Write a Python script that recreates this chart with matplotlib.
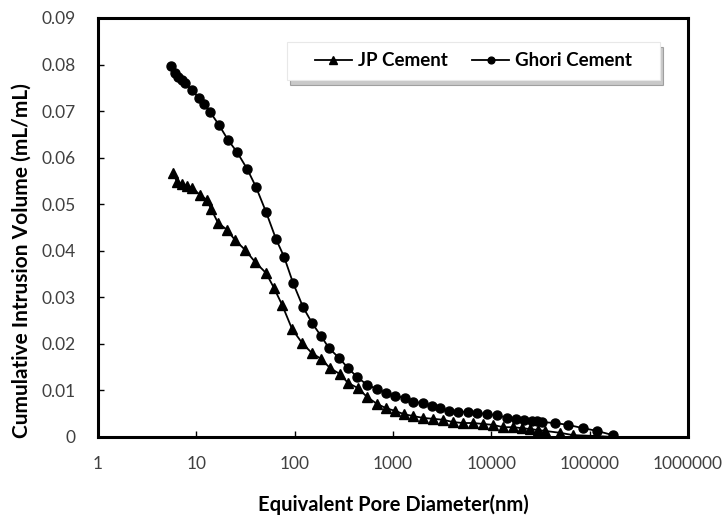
import numpy as np
import matplotlib.pyplot as plt
from matplotlib.patches import Rectangle, Shadow

plt.rcParams['font.family'] = ['Lato', 'DejaVu Sans']

# pore diameter (nm) / cumulative intrusion (mL/mL)
jp_d = [5.79, 6.36, 7.15, 8.04, 9.03, 10.9, 12.8, 14.1, 16.6, 20.5, 24.7, 31.3, 39.5,
        51.2, 61.6, 74.4, 94.0, 118.8, 150, 185, 229, 289, 349, 441, 544, 688, 849,
        1048, 1294, 1597, 2020, 2553, 3228, 4077, 5152, 6516, 8226, 10400, 13150,
        16600, 20500, 24700, 29850, 35200, 49900, 67700, 119000, 172000]
jp_v = [0.0567, 0.0548, 0.0543, 0.0539, 0.0535, 0.0520, 0.0509, 0.0490, 0.0460, 0.0445,
        0.0423, 0.0402, 0.0376, 0.0352, 0.0320, 0.0284, 0.0232, 0.0202, 0.0180, 0.0168,
        0.0148, 0.0135, 0.0116, 0.0105, 0.0086, 0.0071, 0.0062, 0.0056, 0.0049, 0.0045,
        0.0041, 0.0039, 0.0037, 0.0032, 0.0030, 0.0030, 0.0028, 0.0026, 0.0021, 0.0021,
        0.0019, 0.0017, 0.0015, 0.0013, 0.0009, 0.0004, 0.0002, 0.0000]

ghori_d = [5.53, 6.07, 6.51, 7.15, 7.67, 9.03, 10.6, 12.0, 13.8, 17.0, 21.0, 25.9, 32.8,
           40.4, 51.2, 64.6, 78.0, 96.2, 121.6, 150, 185, 223, 282, 349, 430, 544, 688,
           849, 1048, 1325, 1599, 2020, 2494, 3008, 3714, 4584, 5794, 7150, 9040, 11420,
           14430, 17820, 21500, 25900, 29100, 32800, 44400, 60200, 85500, 119000, 172000]
ghori_v = [0.0797, 0.0782, 0.0773, 0.0767, 0.0760, 0.0745, 0.0728, 0.0715, 0.0698, 0.0670,
           0.0638, 0.0612, 0.0576, 0.0537, 0.0483, 0.0425, 0.0387, 0.0331, 0.0279, 0.0245,
           0.0217, 0.0191, 0.0170, 0.0148, 0.0129, 0.0112, 0.0103, 0.0095, 0.0088, 0.0084,
           0.0075, 0.0073, 0.0067, 0.0062, 0.0056, 0.0054, 0.0054, 0.0052, 0.0049, 0.0047,
           0.0041, 0.0039, 0.0037, 0.0034, 0.0034, 0.0032, 0.0030, 0.0026, 0.0019, 0.0013,
           0.0004]

xticks = [1, 10, 100, 1000, 10000, 100000, 1000000]
yticks = [0, 0.01, 0.02, 0.03, 0.04, 0.05, 0.06, 0.07, 0.08, 0.09]

fig = plt.figure(figsize=(7.24, 5.18), dpi=100)
ax = fig.add_axes([0.1354, 0.1564, 0.8149, 0.8089])

ax.plot(jp_d, jp_v, color='black', lw=1.3, marker='^', markersize=7.5, label='JP Cement')
ax.plot(ghori_d, ghori_v, color='black', lw=1.3, marker='o', markersize=6.5, label='Ghori Cement')

ax.set_xscale('log')
ax.set_xlim(1, 1000000)
ax.set_ylim(0, 0.09)
ax.set_xticks(xticks)
ax.set_xticklabels([str(t) for t in xticks])
ax.minorticks_off()
ax.set_yticks(yticks)
ax.set_yticklabels(['0'] + ['%.2f' % t for t in yticks[1:]])
ax.tick_params(direction='in', length=4, width=1, labelsize=12.5, color='black',
               labelcolor='#404040')
ax.tick_params(axis='x', pad=14)
ax.tick_params(axis='y', pad=16)
for s in ax.spines.values():
    s.set_linewidth(2.2)

ax.set_xlabel('Equivalent Pore Diameter(nm)', fontsize=14.5, fontweight='bold', labelpad=16)
ax.set_ylabel('Cumulative Intrusion Volume (mL/mL)', fontsize=15, fontweight='bold')
ax.yaxis.set_label_coords(-0.112, 0.42)

# legend box with a soft shadow, like the spreadsheet original
box = Rectangle((0.320, 0.852), 0.6325, 0.091, transform=ax.transAxes,
                facecolor='white', edgecolor='#e8e8e8', lw=0.8, zorder=4)
shadow = Shadow(box, 0.004, -0.008, facecolor='#888888', alpha=0.45, zorder=3.9)
ax.add_patch(shadow)
ax.add_patch(box)

leg = ax.legend(loc='center', bbox_to_anchor=(0.636, 0.8975), ncol=2, frameon=False,
                prop={'weight': 'bold', 'size': 13.5}, markerscale=0.75,
                handlelength=2.0, handletextpad=0.3, columnspacing=1.3, borderpad=0.3)
leg.set_zorder(5)

fig.savefig('out.png', dpi=100)
